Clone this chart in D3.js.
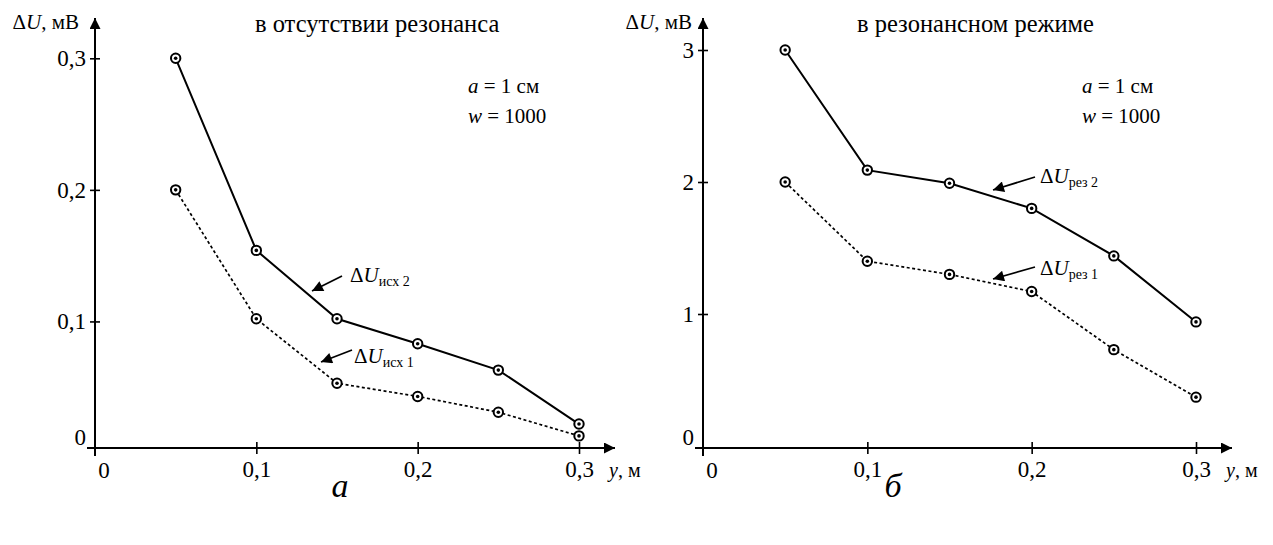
<!DOCTYPE html>
<html lang="ru">
<head>
<meta charset="UTF-8">
<script src="https://d3js.org/d3.v7.min.js"></script>
<style>
  body { margin: 0; background: #fff; }
  svg text { font-family: "Liberation Serif", "Times New Roman", "DejaVu Serif", serif; fill: #000; }
</style>
</head>
<body>
<svg width="1273" height="545" id="chart" font-family="Liberation Serif, serif"></svg>
<script>
// distance along y, m
const yPos = [0.05, 0.1, 0.15, 0.2, 0.25, 0.3];
const xTicks = [0.1, 0.2, 0.3];

// panel a: without resonance, mV
const duBase2 = [0.3, 0.154, 0.102, 0.083, 0.063, 0.022];
const duBase1 = [0.2, 0.102, 0.053, 0.043, 0.031, 0.013];
const yTicksBase = [0.1, 0.2, 0.3];

// panel b: resonance mode, mV
const duRes2 = [3.0, 2.09, 1.99, 1.8, 1.44, 0.94];
const duRes1 = [2.0, 1.4, 1.3, 1.17, 0.73, 0.37];
const yTicksRes = [1, 2, 3];

const svg = d3.select("#chart");
const comma = d => String(d).replace(".", ",");
const FONT = "Liberation Serif, Times New Roman, serif";

// arrow heads
const defs = svg.append("defs");
defs.append("marker")
  .attr("id", "tip")
  .attr("viewBox", "0 0 10 10")
  .attr("refX", 10).attr("refY", 5)
  .attr("markerUnits", "userSpaceOnUse")
  .attr("markerWidth", 14).attr("markerHeight", 11)
  .attr("orient", "auto")
  .append("path").attr("d", "M0,0 L10,5 L0,10 Z").attr("fill", "#000");
defs.append("marker")
  .attr("id", "tipSmall")
  .attr("viewBox", "0 0 10 10")
  .attr("refX", 10).attr("refY", 5)
  .attr("markerUnits", "userSpaceOnUse")
  .attr("markerWidth", 14).attr("markerHeight", 11)
  .attr("orient", "auto")
  .append("path").attr("d", "M0,0 L10,5 L0,10 Z").attr("fill", "#000");

function drawPanel(p) {
  const g = svg.append("g");
  const x = d3.scaleLinear().domain([0, 0.3]).range([p.x0, p.x03]);
  const y = d3.scaleLinear().domain([0, p.yMax]).range([p.y0, p.yTop]);
  const axX = p.x0, axY = p.axisY;

  // axes with arrows
  g.append("line")
    .attr("x1", axX).attr("y1", axY + 8).attr("x2", axX).attr("y2", 18)
    .attr("stroke", "#000").attr("stroke-width", 2).attr("marker-end", "url(#tip)");
  g.append("line")
    .attr("x1", axX - 8).attr("y1", axY).attr("x2", p.x03 + 36).attr("y2", axY)
    .attr("stroke", "#000").attr("stroke-width", 2).attr("marker-end", "url(#tip)");

  // y ticks
  const ya = d3.axisLeft(y).tickValues(p.yTicks).tickFormat(comma).tickSize(0).tickPadding(9);
  const gy = g.append("g").attr("transform", `translate(${axX},0)`).call(ya);
  gy.attr("font-family", FONT).attr("font-size", null);
  gy.select(".domain").remove();
  gy.selectAll(".tick line").attr("x1", -5).attr("x2", 5).attr("stroke", "#000").attr("stroke-width", 1.6);
  gy.selectAll(".tick text").style("font-size", "23px");

  // x ticks
  const xa = d3.axisBottom(x).tickValues(xTicks).tickFormat(comma).tickSize(0).tickPadding(13);
  const gx = g.append("g").attr("transform", `translate(0,${axY})`).call(xa);
  gx.attr("font-family", FONT).attr("font-size", null);
  gx.select(".domain").remove();
  gx.selectAll(".tick line").attr("y1", -6).attr("y2", 6).attr("stroke", "#000").attr("stroke-width", 1.6);
  gx.selectAll(".tick text").style("font-size", "23px");

  // origin labels
  g.append("text").attr("x", axX + 9).attr("y", axY + 30).attr("text-anchor", "middle")
    .style("font-size", "23px").text("0");
  g.append("text").attr("x", axX - 9).attr("y", axY - 3).attr("text-anchor", "end")
    .style("font-size", "23px").text("0");

  // axis titles
  const yl = g.append("text").attr("x", axX - p.ylGap).attr("y", 29).attr("text-anchor", "end").style("font-size", "21px");
  yl.append("tspan").text("Δ");
  yl.append("tspan").style("font-style", "italic").text("U");
  yl.append("tspan").text(", мВ");
  const xl = g.append("text").attr("x", p.x03 + 30).attr("y", axY + 29).style("font-size", "20px");
  xl.append("tspan").style("font-style", "italic").text("y");
  xl.append("tspan").text(", м");

  // title and parameters
  g.append("text").attr("x", p.titleX).attr("y", 32).style("font-size", "24.5px").text(p.title);
  const t1 = g.append("text").attr("x", p.paramX).attr("y", 93).style("font-size", "21px");
  t1.append("tspan").style("font-style", "italic").text("a");
  t1.append("tspan").text(" = 1 см");
  const t2 = g.append("text").attr("x", p.paramX).attr("y", 123).style("font-size", "21px");
  t2.append("tspan").style("font-style", "italic").text("w");
  t2.append("tspan").text(" = 1000");

  // series lines
  const line = d3.line().x((d, i) => x(yPos[i])).y(d => y(d));
  g.append("path").datum(p.s2).attr("d", line)
    .attr("fill", "none").attr("stroke", "#000").attr("stroke-width", 2);
  g.append("path").datum(p.s1).attr("d", line)
    .attr("fill", "none").attr("stroke", "#000").attr("stroke-width", 1.7)
    .attr("stroke-dasharray", "3,2.5");

  // markers
  [p.s1, p.s2].forEach(s => {
    const m = g.append("g").selectAll("g").data(s).enter().append("g")
      .attr("transform", (d, i) => `translate(${x(yPos[i])},${y(d)})`);
    m.append("circle").attr("r", 4.7).attr("fill", "#fff").attr("stroke", "#000").attr("stroke-width", 2);
    m.append("circle").attr("r", 1.8).attr("fill", "#000");
  });

  // series labels with arrows
  p.labels.forEach(l => {
    g.append("line")
      .attr("x1", l.from[0]).attr("y1", l.from[1]).attr("x2", l.to[0]).attr("y2", l.to[1])
      .attr("stroke", "#000").attr("stroke-width", 1.7).attr("marker-end", "url(#tipSmall)");
    const t = g.append("text").attr("x", l.tx).attr("y", l.ty).style("font-size", "21px");
    t.append("tspan").text("Δ");
    t.append("tspan").style("font-style", "italic").text("U");
    t.append("tspan").attr("dy", 4).style("font-size", "14px").text(l.sub);
  });

  // panel letter
  g.append("text").attr("x", p.letterX).attr("y", 497).attr("text-anchor", "middle")
    .style("font-size", "34px").style("font-style", "italic").text(p.letter);
}

drawPanel({
  x0: 95, x03: 579, y0: 453, yTop: 58.3, yMax: 0.3, axisY: 448, ylGap: 16,
  yTicks: yTicksBase, s1: duBase1, s2: duBase2,
  title: "в отсутствии резонанса", titleX: 255, paramX: 468,
  labels: [
    { sub: "исх 2", tx: 350, ty: 282, from: [342, 276], to: [312, 291] },
    { sub: "исх 1", tx: 354, ty: 363, from: [352, 350], to: [321, 362] }
  ],
  letter: "а", letterX: 340
});

drawPanel({
  x0: 703, x03: 1196, y0: 446, yTop: 50, yMax: 3, axisY: 448, ylGap: 11,
  yTicks: yTicksRes, s1: duRes1, s2: duRes2,
  title: "в резонансном режиме", titleX: 857, paramX: 1082,
  labels: [
    { sub: "рез 2", tx: 1040, ty: 183, from: [1035, 177], to: [993, 190] },
    { sub: "рез 1", tx: 1040, ty: 275, from: [1035, 267], to: [993, 279] }
  ],
  letter: "б", letterX: 893
});
</script>
</body>
</html>
